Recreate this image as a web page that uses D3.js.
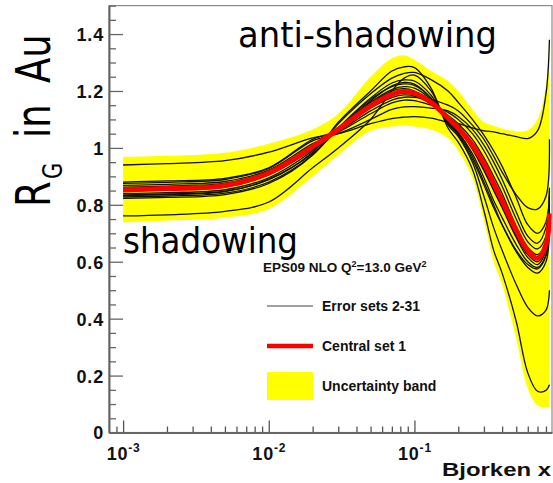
<!DOCTYPE html>
<html><head><meta charset="utf-8">
<script src="https://cdn.jsdelivr.net/npm/d3@7"></script>
<style>html,body{margin:0;padding:0;background:#fff;} svg{display:block}</style>
</head><body>
<svg id="chart" width="553" height="483"></svg>
<script>
// ---------- DATA ----------
const xGrid = [0.001, 0.002, 0.005, 0.01, 0.02, 0.03, 0.05, 0.07, 0.085, 0.1, 0.13, 0.17, 0.2, 0.25, 0.3, 0.35, 0.4, 0.5, 0.6, 0.7, 0.8, 0.845];

const bandUpper = [0.968, 0.972, 0.983, 1.015, 1.065, 1.12, 1.25, 1.315, 1.325, 1.31, 1.27, 1.235, 1.20, 1.135, 1.09, 1.078, 1.068, 1.058, 1.062, 1.10, 1.22, 1.42];
const bandLower = [0.738, 0.745, 0.755, 0.785, 0.90, 0.975, 1.06, 1.075, 1.08, 1.075, 1.065, 1.035, 0.99, 0.895, 0.745, 0.60, 0.52, 0.33, 0.155, 0.095, 0.088, 0.09];

const centralSet = [0.853, 0.857, 0.868, 0.912, 1.004, 1.065, 1.148, 1.188, 1.198, 1.192, 1.16, 1.105, 1.07, 1.01, 0.945, 0.875, 0.815, 0.71, 0.64, 0.612, 0.66, 0.77];

const errT   = [0.823, 0.826, 0.836, 0.875, 0.975, 1.09, 1.20, 1.27, 1.285, 1.282, 1.21, 1.07, 1.02, 0.925, 0.78, 0.64, 0.56, 0.39, 0.21, 0.145, 0.148, 0.168];
const errB   = [0.761, 0.765, 0.777, 0.81, 0.93, 1.00, 1.10, 1.20, 1.245, 1.256, 1.20, 1.08, 1.04, 0.95, 0.83, 0.72, 0.64, 0.52, 0.44, 0.41, 0.43, 0.50];
const errH   = [0.835, 0.838, 0.848, 0.888, 0.985, 1.085, 1.19, 1.245, 1.262, 1.265, 1.24, 1.20, 1.16, 1.10, 1.045, 0.99, 0.935, 0.825, 0.73, 0.70, 0.74, 0.85];
const errI   = [0.828, 0.831, 0.841, 0.88, 0.975, 1.07, 1.17, 1.215, 1.225, 1.22, 1.175, 1.085, 1.045, 0.96, 0.87, 0.79, 0.73, 0.64, 0.59, 0.575, 0.62, 0.73];
const errHh  = [0.832, 0.836, 0.846, 0.89, 0.98, 1.07, 1.175, 1.228, 1.239, 1.235, 1.185, 1.09, 1.05, 0.97, 0.88, 0.80, 0.73, 0.635, 0.58, 0.56, 0.60, 0.72];
const errG   = [0.84, 0.843, 0.853, 0.895, 0.99, 1.07, 1.165, 1.218, 1.23, 1.224, 1.175, 1.095, 1.055, 0.98, 0.895, 0.815, 0.755, 0.66, 0.60, 0.58, 0.625, 0.74];
const errF2  = [0.848, 0.852, 0.862, 0.905, 0.995, 1.065, 1.16, 1.205, 1.215, 1.21, 1.17, 1.10, 1.065, 0.995, 0.92, 0.85, 0.79, 0.685, 0.615, 0.59, 0.64, 0.76];
const errE   = [0.857, 0.861, 0.871, 0.915, 1.0, 1.065, 1.155, 1.20, 1.208, 1.20, 1.165, 1.10, 1.065, 1.0, 0.925, 0.855, 0.795, 0.69, 0.625, 0.60, 0.645, 0.76];
const errD   = [0.862, 0.866, 0.876, 0.918, 1.01, 1.06, 1.14, 1.177, 1.186, 1.182, 1.155, 1.115, 1.085, 1.03, 0.965, 0.90, 0.84, 0.725, 0.65, 0.625, 0.67, 0.80];
const errC2  = [0.868, 0.872, 0.882, 0.922, 1.015, 1.055, 1.12, 1.158, 1.168, 1.166, 1.15, 1.125, 1.10, 1.05, 0.99, 0.925, 0.865, 0.75, 0.67, 0.645, 0.69, 0.83];
const errC   = [0.88, 0.884, 0.893, 0.93, 1.03, 1.06, 1.13, 1.168, 1.178, 1.178, 1.17, 1.15, 1.13, 1.08, 1.03, 0.97, 0.915, 0.835, 0.79, 0.785, 0.83, 1.03];
const errBb  = [0.875, 0.879, 0.889, 0.928, 1.025, 1.05, 1.10, 1.135, 1.144, 1.145, 1.14, 1.13, 1.11, 1.065, 1.01, 0.95, 0.89, 0.775, 0.69, 0.665, 0.72, 0.86];
const errFlat= [0.94, 0.945, 0.955, 0.985, 1.035, 1.05, 1.085, 1.103, 1.108, 1.11, 1.105, 1.09, 1.085, 1.07, 1.06, 1.056, 1.05, 1.04, 1.033, 1.06, 1.19, 1.38];

const errorSets = [errT, errB, errH, errI, errHh, errG, errF2, errE, errD, errC2, errC, errBb, errFlat];

const yTickValues = [0, 0.2, 0.4, 0.6, 0.8, 1.0, 1.2, 1.4];
const yTickLabels = ["0", "0.2", "0.4", "0.6", "0.8", "1", "1.2", "1.4"];
const xDecades = [0.001, 0.01, 0.1];
const xDecadeExponents = ["-3", "-2", "-1"];
const legendLabels = ["Error sets 2-31", "Central set 1", "Uncertainty band"];

// ---------- CHART ----------
const svg = d3.select("#chart");
const L = 109, R = 552, T = 5.6, B = 432.5;
const x = d3.scaleLog().domain([0.0008, 0.88]).range([L, R]);
const y = d3.scaleLinear().domain([0, 1.5]).range([B, T]);

svg.append("rect").attr("width", 553).attr("height", 483).attr("fill", "#fff");

const curve = d3.curveCatmullRom.alpha(0.5);

const bandData = xGrid.map((xv, i) => ({x: xv, lo: bandLower[i], hi: bandUpper[i]}));
svg.append("path")
  .datum(bandData)
  .attr("fill", "#ffff00")
  .attr("d", d3.area().curve(curve).x(d => x(d.x)).y0(d => y(d.lo)).y1(d => y(d.hi)));

const line = d3.line().curve(curve).x(d => x(d.x)).y(d => y(d.v));

svg.append("g").selectAll("path")
  .data(errorSets)
  .join("path")
  .attr("fill", "none")
  .attr("stroke", "#111")
  .attr("stroke-width", 1.3)
  .attr("d", s => line(xGrid.map((xv, i) => ({x: xv, v: s[i]}))));

svg.append("path")
  .datum(xGrid.map((xv, i) => ({x: xv, v: centralSet[i]})))
  .attr("fill", "none")
  .attr("stroke", "#ff0000")
  .attr("stroke-width", 5)
  .attr("d", line);

// frame
svg.append("rect").attr("x", L).attr("y", T).attr("width", R - L).attr("height", B - T)
  .attr("fill", "none").attr("stroke", "#8a8a8a").attr("stroke-width", 1.2);

const tickFont = "'Liberation Sans', Arial, sans-serif";

// Y axis
const yMinor = d3.range(0, 1.5001, 0.05).filter(v => Math.abs(Math.round(v * 5) - v * 5) > 1e-6);
svg.append("g").attr("transform", `translate(${L},0)`)
  .call(d3.axisLeft(y).tickValues(yMinor).tickSizeInner(-7).tickSizeOuter(0).tickFormat(""))
  .call(g => g.select(".domain").remove())
  .call(g => g.selectAll("line").attr("stroke", "#666").attr("stroke-width", 1.3));
svg.append("g").attr("transform", `translate(${L},0)`)
  .call(d3.axisLeft(y).tickValues(yTickValues).tickSizeInner(-14).tickSizeOuter(0).tickPadding(5)
    .tickFormat((d, i) => yTickLabels[i]))
  .call(g => g.select(".domain").attr("stroke", "#666").attr("stroke-width", 2))
  .call(g => g.selectAll("line").attr("stroke", "#666").attr("stroke-width", 1.3))
  .call(g => g.selectAll("text").attr("font-family", tickFont).attr("font-weight", "bold")
      .attr("font-size", 18).attr("fill", "#111").attr("dy", "0.36em").attr("letter-spacing", 0.8));

// X axis
const xMinor = [];
[0.0001, 0.001, 0.01, 0.1].forEach(dec => { for (let k = 2; k <= 9; k++) { const v = k * dec; if (v > 0.0008 && v < 0.88) xMinor.push(v); } });
svg.append("g").attr("transform", `translate(0,${B})`)
  .call(d3.axisBottom(x).tickValues(xMinor).tickSizeInner(-6).tickSizeOuter(0).tickFormat(""))
  .call(g => g.select(".domain").remove())
  .call(g => g.selectAll("line").attr("stroke", "#555").attr("stroke-width", 1.3));
const xg = svg.append("g").attr("transform", `translate(0,${B})`)
  .call(d3.axisBottom(x).tickValues(xDecades).tickSizeInner(-12).tickSizeOuter(0).tickFormat(""))
  .call(g => g.select(".domain").attr("stroke", "#666").attr("stroke-width", 2))
  .call(g => g.selectAll("line").attr("stroke", "#555").attr("stroke-width", 1.3));
xg.selectAll(".tick").each(function(d, i) {
  const t = d3.select(this).append("text")
    .attr("y", 27).attr("text-anchor", "middle").attr("fill", "#111")
    .attr("font-family", tickFont).attr("font-weight", "bold").attr("font-size", 18)
    .attr("letter-spacing", 0.8);
  t.append("tspan").text("10");
  t.append("tspan").attr("dy", -8).attr("font-size", 12).text(xDecadeExponents[i]);
});

svg.append("text").attr("x", 442).attr("y", 476)
  .attr("font-family", tickFont).attr("font-weight", "bold").attr("font-size", 19)
  .attr("textLength", 109).attr("lengthAdjust", "spacingAndGlyphs").attr("fill", "#111")
  .text("Bjorken x");

// Y label
const comic = "'DejaVu Sans', sans-serif";
const yl = svg.append("text").attr("transform", "translate(50,207) rotate(-90) scale(1,1.3)")
  .attr("font-family", comic).attr("font-size", 37).attr("fill", "#000");
yl.append("tspan").attr("x", 0).attr("y", 0).text("R");
yl.append("tspan").attr("x", 28).attr("y", 9).attr("font-size", 21).text("G");
yl.append("tspan").attr("x", 69).attr("y", 0).text("in");
yl.append("tspan").attr("x", 124).attr("y", 0).text("Au");

// annotations
svg.append("text").attr("x", 238).attr("y", 47).attr("font-family", comic).attr("font-size", 35)
  .attr("textLength", 259).attr("lengthAdjust", "spacingAndGlyphs").attr("fill", "#000").text("anti-shadowing");
svg.append("text").attr("x", 123).attr("y", 253).attr("font-family", comic).attr("font-size", 35)
  .attr("textLength", 175).attr("lengthAdjust", "spacingAndGlyphs").attr("fill", "#000").text("shadowing");

// legend
const lg = svg.append("g").attr("font-family", tickFont).attr("font-weight", "bold").attr("fill", "#111");
const hdr = lg.append("text").attr("x", 263).attr("y", 272).attr("font-size", 13.5);
hdr.append("tspan").text("EPS09 NLO Q");
hdr.append("tspan").attr("dy", -5).attr("font-size", 9).text("2");
hdr.append("tspan").attr("dy", 5).text("=13.0 GeV");
hdr.append("tspan").attr("dy", -5).attr("font-size", 9).text("2");

lg.append("line").attr("x1", 267).attr("x2", 313).attr("y1", 306).attr("y2", 306)
  .attr("stroke", "#444").attr("stroke-width", 1.2);
lg.append("line").attr("x1", 267).attr("x2", 313).attr("y1", 346).attr("y2", 346)
  .attr("stroke", "#ff0000").attr("stroke-width", 4.5);
lg.append("rect").attr("x", 267).attr("y", 372).attr("width", 46).attr("height", 28).attr("fill", "#ffff00");
[311, 351, 391].forEach((yy, i) => {
  lg.append("text").attr("x", 322).attr("y", yy).attr("font-size", 14).text(legendLabels[i]);
});
</script>
</body></html>
